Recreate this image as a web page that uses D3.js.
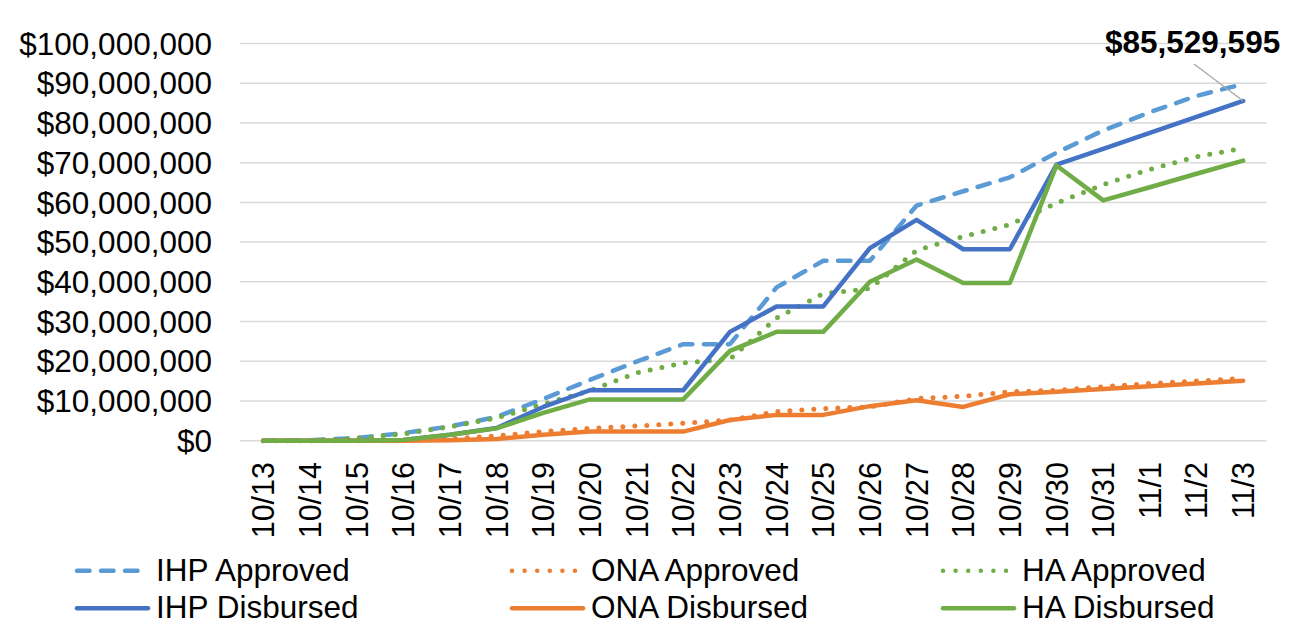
<!DOCTYPE html>
<html lang="en">
<head>
<meta charset="utf-8">
<title>IHP / ONA / HA approved and disbursed</title>
<script src="https://cdn.jsdelivr.net/npm/d3@7"></script>
<style>
  body { margin: 0; background: #fff; }
  svg text { font-family: "Liberation Sans", Arial, sans-serif; fill: #000; }
  .grid line { stroke: #d9d9d9; stroke-width: 1.5; }
</style>
</head>
<body>
<script>
// dates on the x axis
var categories = ["10/13","10/14","10/15","10/16","10/17","10/18","10/19","10/20","10/21","10/22","10/23",
                  "10/24","10/25","10/26","10/27","10/28","10/29","10/30","10/31","11/1","11/2","11/3"];

// cumulative dollars, in millions
var ihpApproved  = [0, 0.1, 0.7, 1.9, 3.6, 6.0, 10.5, 15.3, 19.9, 24.3, 24.3, 38.6, 45.3, 45.3, 59.2, 62.8, 66.3, 72.5, 78.1, 82.7, 86.8, 89.8];
var onaApproved  = [0, 0, 0, 0, 0.5, 1.2, 2.3, 3.1, 3.7, 4.4, 5.2, 7.3, 8.1, 8.5, 10.6, 11.2, 12.3, 12.7, 13.6, 14.4, 15.0, 15.7];
var haApproved   = [0, 0, 0.6, 1.7, 3.5, 5.7, 9.2, 12.6, 17.1, 19.6, 20.5, 30.9, 37.0, 38.3, 47.9, 51.4, 54.4, 59.8, 64.5, 68.3, 71.5, 73.6];
var ihpDisbursed = [0, 0, 0, 0.2, 1.5, 3.2, 8.5, 12.7, 12.7, 12.7, 27.4, 33.8, 33.8, 48.5, 55.6, 48.2, 48.2, 69.5, 73.5, 77.5, 81.5, 85.529595];
var onaDisbursed = [0, 0, 0, 0, 0.1, 0.4, 1.5, 2.3, 2.3, 2.3, 5.2, 6.5, 6.5, 8.7, 10.2, 8.5, 11.7, 12.3, 13.0, 13.7, 14.4, 15.1];
var haDisbursed  = [0, 0, 0, 0.2, 1.5, 3.1, 7.0, 10.4, 10.4, 10.4, 22.6, 27.4, 27.4, 40.0, 45.6, 39.7, 39.7, 69.3, 60.5, 63.8, 67.2, 70.5];

var yTicks = [0, 10, 20, 30, 40, 50, 60, 70, 80, 90, 100];
var lastLabel = "$85,529,595";

var seriesNames = ["IHP Approved", "ONA Approved", "HA Approved", "IHP Disbursed", "ONA Disbursed", "HA Disbursed"];
var seriesData  = [ihpApproved, onaApproved, haApproved, ihpDisbursed, onaDisbursed, haDisbursed];
var seriesColor = ["#5b9bd5", "#ed7d31", "#70ad47", "#4472c4", "#ed7d31", "#70ad47"];
var seriesDash  = ["12.5,11.5", "0,12", "0,12", null, null, null];

var w = 1294, h = 625;
var plotLeft = 240, plotRight = 1266.5, plotTop = 43.5, plotBottom = 440.7;

var svg = d3.select("body").append("svg")
    .attr("width", w)
    .attr("height", h);

var xScale = d3.scaleBand()
    .domain(categories)
    .range([plotLeft, plotRight]);

var yScale = d3.scaleLinear()
    .domain([0, 100])
    .range([plotBottom, plotTop]);

var fmt = d3.format(",");

// gridlines
svg.append("g").attr("class", "grid")
  .selectAll("line")
  .data(yTicks)
  .enter().append("line")
    .attr("x1", plotLeft).attr("x2", plotRight)
    .attr("y1", function(d) { return yScale(d); })
    .attr("y2", function(d) { return yScale(d); });

// y axis labels
var yAxis = d3.axisLeft(yScale)
    .tickValues(yTicks)
    .tickSize(0)
    .tickPadding(0)
    .tickFormat(function(d) { return "$" + fmt(d * 1e6); });

var yg = svg.append("g")
    .attr("transform", "translate(212,0)")
    .call(yAxis);
yg.select(".domain").remove();
yg.attr("font-family", null).attr("font-size", null);
yg.selectAll("text")
    .attr("font-size", 31.5)
    .attr("dy", "0.34em");

// x axis labels, rotated
var xAxis = d3.axisBottom(xScale).tickSize(0).tickPadding(0);
var xg = svg.append("g")
    .attr("transform", "translate(0,462)")
    .call(xAxis);
xg.select(".domain").remove();
xg.attr("font-family", null).attr("font-size", null);
xg.selectAll("text")
    .attr("font-size", 30.5)
    .attr("text-anchor", "end")
    .attr("y", 0)
    .attr("dy", "0.36em")
    .attr("transform", "rotate(-90)");

// lines
var line = d3.line()
    .x(function(d, i) { return xScale(categories[i]) + xScale.bandwidth() / 2; })
    .y(function(d) { return yScale(d); });

svg.append("g").selectAll("path")
  .data(seriesData)
  .enter().append("path")
    .attr("d", line)
    .attr("fill", "none")
    .attr("stroke", function(d, i) { return seriesColor[i]; })
    .attr("stroke-width", function(d, i) { return (i === 1 || i === 2) ? 5 : 4.5; })
    .attr("stroke-linejoin", "round")
    .attr("stroke-linecap", "round")
    .attr("stroke-dasharray", function(d, i) { return seriesDash[i]; });

// callout on the last IHP Disbursed point
var lastI = categories.length - 1;
var px = xScale(categories[lastI]) + xScale.bandwidth() / 2;
var py = yScale(ihpDisbursed[lastI]);
svg.append("line")
    .attr("x1", 1194).attr("y1", 64)
    .attr("x2", px).attr("y2", py)
    .attr("stroke", "#a6a6a6")
    .attr("stroke-width", 1.2);
svg.append("text")
    .attr("x", 1105).attr("y", 53)
    .attr("font-size", 31.5)
    .attr("font-weight", "bold")
    .text(lastLabel);

// legend, 3 columns x 2 rows
var legX = [77, 512, 943];
var legY = [570.7, 608.3];
var leg = svg.append("g").selectAll("g")
  .data(seriesNames)
  .enter().append("g")
    .attr("transform", function(d, i) {
      return "translate(" + legX[i % 3] + "," + legY[Math.floor(i / 3)] + ")";
    });

leg.append("line")
    .attr("x1", 0)
    .attr("x2", function(d, i) { return i < 3 ? 66 : 71; })
    .attr("y1", 0).attr("y2", 0)
    .attr("stroke", function(d, i) { return seriesColor[i]; })
    .attr("stroke-width", 4.5)
    .attr("stroke-linecap", "round")
    .attr("stroke-dasharray", function(d, i) { return i === 0 ? "12.5,11.5" : seriesDash[i] ? "0,12.6" : null; });

leg.append("text")
    .attr("x", 79)
    .attr("y", 10)
    .attr("font-size", 31.5)
    .text(function(d) { return d; });
</script>
</body>
</html>
